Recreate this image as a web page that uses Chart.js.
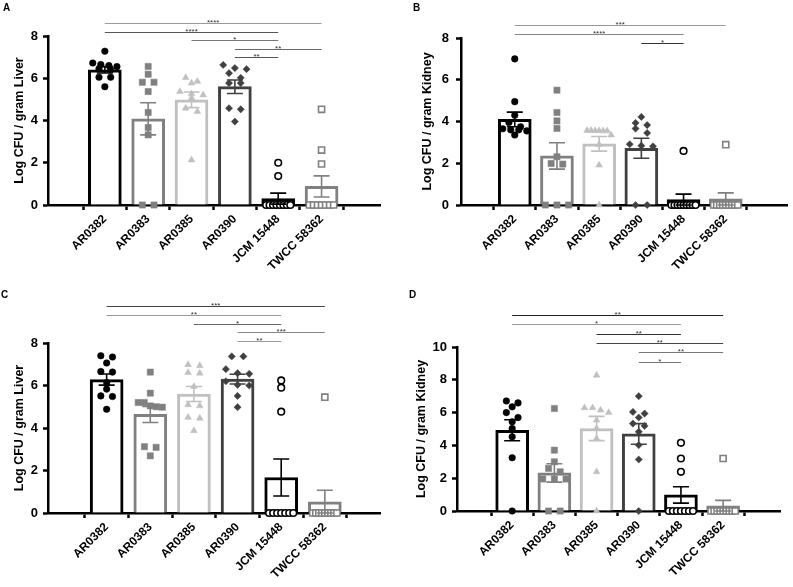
<!DOCTYPE html>
<html>
<head>
<meta charset="utf-8">
<script src="https://cdn.jsdelivr.net/npm/chart.js@4.4.0/dist/chart.umd.min.js"></script>
<style>
  body { margin: 0; background: #fff; }
  #wrap { position: relative; width: 793px; height: 587px; background: #fff; overflow: hidden; }
  canvas { position: absolute; }
  .lbl { position: absolute; font: bold 10px "Liberation Sans", Arial, sans-serif; line-height: 10px; color: #000; }
</style>
</head>
<body>
<div id="wrap">
  <canvas id="cA" width="400" height="290" style="left:0;top:0"></canvas>
  <canvas id="cB" width="393" height="290" style="left:400px;top:0"></canvas>
  <canvas id="cC" width="400" height="297" style="left:0;top:290px"></canvas>
  <canvas id="cD" width="393" height="297" style="left:400px;top:290px"></canvas>
  <div class="lbl" style="left:3px;top:3px">A</div>
  <div class="lbl" style="left:413px;top:3px">B</div>
  <div class="lbl" style="left:1px;top:290px">C</div>
  <div class="lbl" style="left:409px;top:290px">D</div>
</div>
<script>
// groups on the x axis
var categories = ['AR0382', 'AR0383', 'AR0385', 'AR0390', 'JCM 15448', 'TWCC 58362'];

// A - liver
var aPoints = [
  [7.28, 6.72, 6.65, 6.6, 6.55, 6.45, 6.4, 6.05, 6.05, 5.6],
  [6.56, 6.19, 5.81, 5.81, 5.37, 4.38, 3.67, 3.32, 0, 0],
  [6.03, 5.85, 5.77, 5.37, 5.26, 5.21, 5.06, 4.58, 4.42, 2.13],
  [6.63, 6.48, 6.43, 6.24, 6.02, 5.77, 5.77, 4.58, 4.53, 3.95],
  [2.0, 1.37, 0, 0, 0, 0, 0, 0, 0, 0],
  [4.53, 2.6, 1.94, 0, 0, 0, 0, 0, 0, 0]
];
var aMeans = [6.4, 4.08, 4.98, 5.6, 0.3, 0.88];
var aSems = [0.15, 0.76, 0.37, 0.32, 0.26, 0.5];
var aSig = [[3, 4, '**'], [3, 5, '**'], [2, 4, '*'], [0, 4, '****'], [0, 5, '****']];

// B - kidney
var bPoints = [
  [7.0, 4.95, 4.3, 3.95, 3.75, 3.65, 3.6, 3.6, 3.55, 3.35],
  [5.5, 4.43, 4.03, 3.67, 2.31, 1.99, 1.96, 0, 0, 0],
  [3.57, 3.56, 3.55, 3.55, 3.56, 3.57, 3.35, 2.9, 1.91, 0],
  [4.22, 3.93, 3.83, 3.66, 3.45, 2.91, 2.84, 2.81, 0, 0],
  [2.59, 0, 0, 0, 0, 0, 0, 0, 0, 0],
  [2.89, 0, 0, 0, 0, 0, 0, 0, 0, 0]
];
var bMeans = [4.1, 2.35, 2.93, 2.72, 0.26, 0.29];
var bSems = [0.35, 0.63, 0.35, 0.48, 0.26, 0.29];
var bSig = [[3, 4, '*'], [0, 4, '****'], [0, 5, '***']];

// C - liver
var cPoints = [
  [7.4, 7.34, 7.06, 6.66, 6.63, 6.14, 5.83, 5.51, 5.48, 4.88],
  [6.63, 5.64, 5.2, 5.2, 5.04, 5.0, 4.98, 3.12, 3.09, 2.69],
  [6.98, 6.93, 6.61, 6.58, 5.95, 5.09, 5.04, 4.5, 4.46, 3.87],
  [7.37, 7.37, 6.77, 6.58, 6.55, 6.2, 6.03, 6.0, 5.51, 4.98],
  [6.24, 5.9, 4.77, 0, 0, 0, 0, 0, 0, 0],
  [5.45, 0, 0, 0, 0, 0, 0, 0, 0, 0]
];
var cMeans = [6.28, 4.64, 5.6, 6.3, 1.67, 0.52];
var cSems = [0.26, 0.38, 0.35, 0.23, 0.87, 0.55];
var cSig = [[3, 4, '**'], [3, 5, '***'], [2, 4, '*'], [0, 4, '**'], [0, 5, '***']];

// D - kidney
var dPoints = [
  [6.71, 6.59, 6.35, 6.0, 5.7, 5.44, 5.03, 4.52, 3.25, 0],
  [6.25, 3.71, 3.0, 2.6, 2.39, 1.95, 1.95, 1.95, 0, 0],
  [8.28, 6.29, 6.29, 6.15, 6.0, 5.54, 5.03, 4.42, 2.39, 0],
  [7.0, 6.04, 5.94, 5.7, 5.33, 5.19, 4.83, 4.02, 3.14, 0],
  [4.16, 3.2, 2.39, 0, 0, 0, 0, 0, 0, 0],
  [3.2, 0, 0, 0, 0, 0, 0, 0, 0, 0]
];
var dMeans = [4.92, 2.32, 5.03, 4.7, 0.98, 0.32];
var dSems = [0.64, 0.56, 0.74, 0.63, 0.5, 0.33];
var dSig = [[3, 4, '*'], [3, 5, '**'], [2, 5, '**'], [2, 4, '**'], [0, 4, '*'], [0, 5, '**']];

// styles per group
var lineColors = ['#000000', '#808080', '#c0c0c0', '#404040', '#000000', '#808080'];
var fillColors = ['#000000', '#808080', '#c0c0c0', '#404040', '#ffffff', '#ffffff'];
var markers = ['circle', 'rect', 'triangle', 'rectRot', 'circle', 'rect'];
var markerSize = [3.3, 4.4, 3.9, 3.6, 3.3, 4.3];
var markerBorder = [0.5, 0.5, 0.5, 0.5, 1.6, 1.6];
var FONT = '"Liberation Sans", Arial, sans-serif';

// GraphPad-ish scatter: points at about the same height share a row
function swarm(vals, pxPerUnit, catPx) {
  var idx = vals.map(function (v, i) { return i; }).sort(function (a, b) { return vals[b] - vals[a]; });
  var rows = [];
  idx.forEach(function (i) {
    var r = rows[rows.length - 1];
    if (r && (vals[r[0]] - vals[i]) * pxPerUnit < 5) r.push(i);
    else rows.push([i]);
  });
  var off = vals.map(function () { return 0; });
  rows.forEach(function (r) {
    var n = r.length;
    if (n < 2) return;
    var step = Math.min(14, 29 / (n - 1));
    r.forEach(function (i, k) { off[i] = (k - (n - 1) / 2) * step / catPx; });
  });
  return off;
}

var errPlugin = {
  id: 'errs',
  afterDatasetsDraw: function (chart, args, o) {
    var ctx = chart.ctx, x = chart.scales.x, y = chart.scales.y;
    ctx.save();
    ctx.lineWidth = 1.6;
    o.means.forEach(function (m, i) {
      var px = x.getPixelForValue(i);
      var top = y.getPixelForValue(m + o.sems[i]);
      var bot = y.getPixelForValue(Math.max(0, m - o.sems[i]));
      ctx.strokeStyle = lineColors[i];
      ctx.beginPath();
      ctx.moveTo(px, top); ctx.lineTo(px, bot);
      ctx.moveTo(px - 8, top); ctx.lineTo(px + 8, top);
      ctx.moveTo(px - 8, bot); ctx.lineTo(px + 8, bot);
      ctx.stroke();
    });
    // significance bars
    var sigColors = o.sigColors;
    o.sig.forEach(function (s, k) {
      var yy = Math.round(y.getPixelForValue(o.sigBase) - k * o.sigStep) + 0.5;
      var x1 = x.getPixelForValue(s[0]), x2 = x.getPixelForValue(s[1]);
      ctx.strokeStyle = sigColors[k];
      ctx.lineWidth = 1;
      ctx.beginPath();
      ctx.moveTo(x1, yy); ctx.lineTo(x2, yy);
      ctx.stroke();
      ctx.fillStyle = '#333';
      ctx.font = '8px ' + FONT;
      ctx.textAlign = 'center';
      ctx.textBaseline = 'bottom';
      ctx.fillText(s[2], (x1 + x2) / 2, yy + 3);
    });
    ctx.restore();
  }
};

function makePanel(id, p) {
  var pxPerUnit = (p.bottomY - p.topY) / p.yMax;
  var catPx = (p.rightX - p.axisX) / (p.xMax - p.xMin);
  var canvas = document.getElementById(id);
  var datasets = [{
    type: 'bar',
    data: p.means.map(function (m, i) { return { x: i, y: m }; }),
    backgroundColor: '#ffffff',
    borderColor: lineColors,
    borderWidth: 3,
    barThickness: 33,
    order: 1
  }];
  p.points.forEach(function (vals, i) {
    var off = swarm(vals, pxPerUnit, catPx);
    datasets.push({
      type: 'scatter',
      data: vals.map(function (v, j) { return { x: i + off[j], y: v }; }),
      pointStyle: markers[i],
      pointRadius: markerSize[i],
      backgroundColor: fillColors[i],
      borderColor: lineColors[i],
      borderWidth: markerBorder[i],
      clip: false,
      order: 0
    });
  });
  var titleOffset = 12.5 * 1.2 / 2 + 2;
  var padLeft = p.titleX - titleOffset;
  new Chart(canvas, {
    type: 'bar',
    data: { datasets: datasets },
    options: {
      responsive: false,
      animation: false,
      devicePixelRatio: 1,
      layout: { padding: { left: padLeft, top: p.topY, right: canvas.width - p.rightX, bottom: 0 } },
      plugins: {
        legend: { display: false },
        tooltip: { enabled: false },
        errs: { means: p.means, sems: p.sems, sig: p.sig, sigColors: p.sigColors, sigBase: p.sigBase, sigStep: p.sigStep }
      },
      scales: {
        x: {
          type: 'linear',
          min: p.xMin,
          max: p.xMax,
          afterFit: function (s) { s.height = canvas.height - p.bottomY; },
          border: { display: true, color: '#000', width: 2.5 },
          grid: { display: true, drawOnChartArea: false, drawTicks: true, tickLength: 5, tickWidth: 2.5, tickColor: '#000' },
          ticks: {
            stepSize: 1, includeBounds: false, autoSkip: false,
            minRotation: 45, maxRotation: 45, padding: 2,
            color: '#000', font: { family: FONT, size: 12, weight: 'bold' },
            callback: function (v) { return categories[v] !== undefined ? categories[v] : ''; }
          }
        },
        y: {
          min: 0,
          max: p.yMax,
          afterFit: function (s) { s.width = p.axisX - padLeft; },
          border: { display: true, color: '#000', width: 2.5 },
          grid: { display: true, drawOnChartArea: false, drawTicks: true, tickLength: 5, tickWidth: 2.5, tickColor: '#000' },
          ticks: { stepSize: 2, padding: p.tickPad, color: '#000', font: { family: FONT, size: 13, weight: 'bold' } },
          title: { display: true, text: p.title, color: '#000', padding: { top: 2, bottom: 0 }, font: { family: FONT, size: 12.5, weight: 'bold' } }
        }
      }
    },
    plugins: [errPlugin]
  });
}

makePanel('cA', {
  points: aPoints, means: aMeans, sems: aSems, sig: aSig,
  sigColors: ['#555', '#666', '#777', '#555', '#999'], sigBase: 7.0, sigStep: 8.5,
  axisX: 48, topY: 36, bottomY: 205, rightX: 380, xMin: -0.673, xMax: 5.71, yMax: 8,
  title: 'Log CFU / gram Liver', titleX: 20, tickPad: 5
});
makePanel('cB', {
  points: bPoints, means: bMeans, sems: bSems, sig: bSig,
  sigColors: ['#333', '#888', '#999'], sigBase: 7.76, sigStep: 9,
  axisX: 61, topY: 38, bottomY: 205, rightX: 388, xMin: -0.63, xMax: 5.81, yMax: 8,
  title: 'Log CFU / gram Kidney', titleX: 28, tickPad: 7
});
makePanel('cC', {
  points: cPoints, means: cMeans, sems: cSems, sig: cSig,
  sigColors: ['#999', '#888', '#666', '#999', '#444'], sigBase: 8.09, sigStep: 8.75,
  axisX: 48, topY: 53, bottomY: 223, rightX: 380, xMin: -0.71, xMax: 5.63, yMax: 8,
  title: 'Log CFU / gram Liver', titleX: 20, tickPad: 5
});
makePanel('cD', {
  points: dPoints, means: dMeans, sems: dSems, sig: dSig,
  sigColors: ['#777', '#777', '#444', '#333', '#999', '#222'], sigBase: 9.1, sigStep: 9.4,
  axisX: 57, topY: 57, bottomY: 221, rightX: 380, xMin: -0.67, xMax: 5.71, yMax: 10,
  title: 'Log CFU / gram Kidney', titleX: 22, tickPad: 5
});
</script>
</body>
</html>
